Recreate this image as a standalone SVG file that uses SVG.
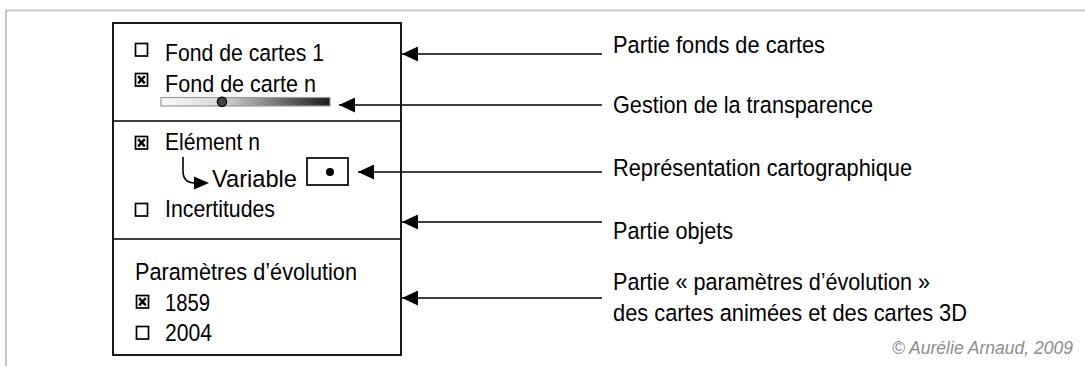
<svg xmlns="http://www.w3.org/2000/svg" width="1085" height="367" viewBox="0 0 1085 367">
<style>
text{font-family:"Liberation Sans",Arial,sans-serif;font-size:24.5px;fill:#000;}
.cr{font-size:18.5px;font-style:italic;fill:#8c8c8c;}
.frame{stroke:#c8c8c8;stroke-width:2;fill:none;}
.box{fill:#fff;stroke:#000;stroke-width:1.8;}
.ln{stroke:#000;stroke-width:1.6;fill:none;}
.cb{fill:#fff;stroke:#000;stroke-width:1.7;}
.x{stroke:#000;stroke-width:2.4;stroke-linecap:square;}
.conn{stroke:#000;stroke-width:1.6;fill:none;marker-end:url(#ah);}
</style>
<defs>
<marker id="ah" markerUnits="userSpaceOnUse" markerWidth="16" markerHeight="15" refX="16" refY="7.5" orient="auto">
<path d="M0,0 L16,7.5 L0,15 z" fill="#000"/>
</marker>
<linearGradient id="grad" x1="0" y1="0" x2="1" y2="0">
<stop offset="0" stop-color="#fafafa"/>
<stop offset="0.35" stop-color="#d8d8d8"/>
<stop offset="1" stop-color="#1a1a1a"/>
</linearGradient>
</defs>
<rect width="1085" height="367" fill="#fff"/>
<path class="frame" d="M6,366 L6,10.5 L1085,10.5"/>

<g id="panel">
<rect class="box" x="113" y="23" width="288" height="332"/>
<line class="ln" x1="113" y1="121" x2="401" y2="121"/>
<line class="ln" x1="113" y1="239" x2="401" y2="239"/>
</g>

<g id="fonds">
<rect class="cb" x="135.5" y="43.5" width="12" height="12.5"/>
<text x="165" y="60.5" textLength="159" lengthAdjust="spacingAndGlyphs">Fond de cartes 1</text>
<rect class="cb" x="135.5" y="73.5" width="12" height="12.5"/>
<line class="x" x1="139" y1="77" x2="144" y2="82.5"/>
<line class="x" x1="144" y1="77" x2="139" y2="82.5"/>
<text x="165" y="91.5" textLength="151" lengthAdjust="spacingAndGlyphs">Fond de carte n</text>
</g>

<g id="slider">
<rect x="161" y="97.5" width="169" height="8.5" fill="url(#grad)" stroke="#9a9a9a" stroke-width="1.2"/>
<circle cx="222" cy="101.7" r="4.6" fill="#444" stroke="#000" stroke-width="1.3"/>
</g>

<g id="objets">
<rect class="cb" x="135.5" y="136.5" width="12" height="12.5"/>
<line class="x" x1="139" y1="140" x2="144" y2="145.5"/>
<line class="x" x1="144" y1="140" x2="139" y2="145.5"/>
<text x="165" y="150" textLength="95" lengthAdjust="spacingAndGlyphs">Elément n</text>
<path class="ln" d="M183,157 L183,171 Q183,183 195,183"/>
<path d="M194,176.5 L209,183 L194,189.5 z" fill="#000"/>
<text x="212" y="186.5" textLength="85" lengthAdjust="spacingAndGlyphs">Variable</text>
<rect class="cb" x="307" y="158" width="41" height="27"/>
<circle cx="330" cy="172" r="4" fill="#000"/>
<rect class="cb" x="135.5" y="203.5" width="12" height="12.5"/>
<text x="165" y="217" textLength="110" lengthAdjust="spacingAndGlyphs">Incertitudes</text>
</g>

<g id="parametres">
<text x="135" y="280" textLength="222" lengthAdjust="spacingAndGlyphs">Paramètres d’évolution</text>
<rect class="cb" x="136.5" y="295.5" width="12" height="12.5"/>
<line class="x" x1="140" y1="299" x2="145" y2="304.5"/>
<line class="x" x1="145" y1="299" x2="140" y2="304.5"/>
<text x="165" y="311" textLength="45" lengthAdjust="spacingAndGlyphs">1859</text>
<rect class="cb" x="136.5" y="326.5" width="12" height="12.5"/>
<text x="165" y="341" textLength="47" lengthAdjust="spacingAndGlyphs">2004</text>
</g>

<g id="connectors">
<line class="conn" x1="602" y1="54" x2="402" y2="54"/>
<line class="conn" x1="602" y1="105" x2="339" y2="105"/>
<line class="conn" x1="602" y1="172" x2="358" y2="172"/>
<line class="conn" x1="602" y1="222" x2="402" y2="222"/>
<line class="conn" x1="602" y1="298" x2="402" y2="298"/>
</g>

<g id="labels">
<text x="613" y="53" textLength="212" lengthAdjust="spacingAndGlyphs">Partie fonds de cartes</text>
<text x="613" y="113" textLength="260" lengthAdjust="spacingAndGlyphs">Gestion de la transparence</text>
<text x="613" y="176" textLength="299" lengthAdjust="spacingAndGlyphs">Représentation cartographique</text>
<text x="613" y="239" textLength="120" lengthAdjust="spacingAndGlyphs">Partie objets</text>
<text x="613" y="289.5" textLength="317" lengthAdjust="spacingAndGlyphs">Partie « paramètres d’évolution »</text>
<text x="613" y="320.5" textLength="354" lengthAdjust="spacingAndGlyphs">des cartes animées et des cartes 3D</text>
<text class="cr" x="892" y="354" textLength="181" lengthAdjust="spacingAndGlyphs">© Aurélie Arnaud, 2009</text>
</g>
</svg>
